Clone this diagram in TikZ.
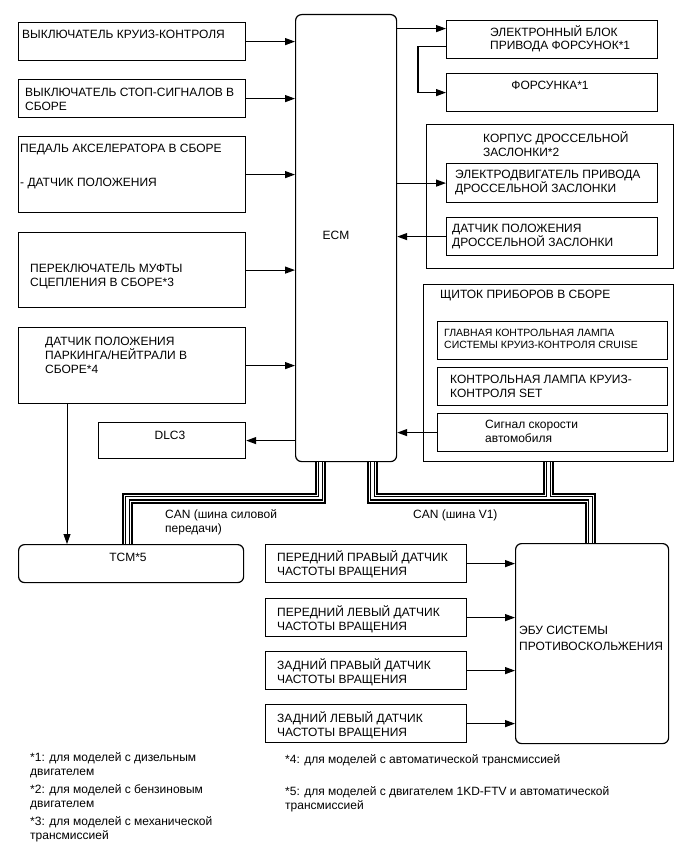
\documentclass[tikz,border=0pt]{standalone}
\usepackage{fontspec}
\setmainfont{Liberation Sans}
\usetikzlibrary{arrows.meta}

\begin{document}
\begin{tikzpicture}[x=1pt,y=-1pt,
  box/.style={draw,line width=1.2pt,anchor=north west,inner sep=0pt},
  rbox/.style={box,rounded corners=6pt},
  txt/.style={anchor=west,align=left,inner sep=0pt,font=\fontsize{12}{14}\selectfont},
  small/.style={txt,font=\fontsize{10.5}{12}\selectfont},
  arr/.style={line width=1.2pt,-{Triangle[length=10pt,width=7pt]}}]
\useasboundingbox (0,0) rectangle (690,853);

% ECM
\node[rbox,minimum width=101,minimum height=447] (ecm) at (295,14) {};
\node[txt,anchor=center] (ecmt) at (336,235) {ECM};

% inputs, left
\node[box,minimum width=227,minimum height=38] (cruise) at (18,22) {};
\node[txt] (cruiset) at (22,34) {ВЫКЛЮЧАТЕЛЬ КРУИЗ-КОНТРОЛЯ};
\node[box,minimum width=227,minimum height=38] (stop) at (18,79) {};
\node[txt] (stopt) at (25,99) {ВЫКЛЮЧАТЕЛЬ СТОП-СИГНАЛОВ В\\СБОРЕ};
\node[box,minimum width=227,minimum height=76] (pedal) at (18,136) {};
\node[txt] (pedalt) at (20,167) {ПЕДАЛЬ АКСЕЛЕРАТОРА В СБОРЕ\\[20pt]- ДАТЧИК ПОЛОЖЕНИЯ};
\node[box,minimum width=227,minimum height=75] (clutch) at (18,232) {};
\node[txt] (clutcht) at (30,276.5) {ПЕРЕКЛЮЧАТЕЛЬ МУФТЫ\\СЦЕПЛЕНИЯ В СБОРЕ*3};
\node[box,minimum width=227,minimum height=76] (pnp) at (18,327) {};
\node[txt] (pnpt) at (45,355) {ДАТЧИК ПОЛОЖЕНИЯ\\ПАРКИНГА/НЕЙТРАЛИ В\\СБОРЕ*4};
\node[box,minimum width=147,minimum height=36] (dlc) at (98,422) {};
\node[txt,anchor=center] (dlct) at (170,435) {DLC3};
\node[rbox,minimum width=225,minimum height=38] (tcm) at (18,544) {};
\node[txt,anchor=center] (tcmt) at (128,557) {TCM*5};

\foreach \n in {cruise,stop,pedal,clutch,pnp}
  \draw[arr] (\n.east) -- (\n.east -| ecm.west);
\draw[arr] (dlc.east -| ecm.west) -- (dlc.east);
\draw[arr,line width=0.8pt] ([xshift=49pt]pnp.south west) -- ([xshift=49pt]pnp.south west |- tcm.north);

% injection
\node[box,minimum width=211,minimum height=38] (edu) at (446,20) {};
\node[txt,font=\fontsize{12}{12.5}\selectfont] (edut) at (490,39) {ЭЛЕКТРОННЫЙ БЛОК\\ПРИВОДА ФОРСУНОК*1};
\node[box,minimum width=211,minimum height=38] (inj) at (446,73) {};
\node[txt,anchor=center] (injt) at (550,85) {ФОРСУНКА*1};
\draw[arr] ([yshift=11pt]edu.west -| ecm.east) -- ([yshift=11pt]edu.west);
\draw[arr] ([yshift=-7pt]edu.west) -- ++(-28,0) |- (inj.west);

% throttle body
\node[box,minimum width=247,minimum height=144] (thr) at (426,124) {};
\node[txt] (thrt) at (483,144.5) {КОРПУС ДРОССЕЛЬНОЙ\\ЗАСЛОНКИ*2};
\node[box,minimum width=211,minimum height=39] (motor) at (446,163) {};
\node[txt] (motort) at (455,182.5) {ЭЛЕКТРОДВИГАТЕЛЬ ПРИВОДА\\ДРОССЕЛЬНОЙ ЗАСЛОНКИ};
\node[box,minimum width=211,minimum height=38] (tps) at (446,217) {};
\node[txt] (tpst) at (452,236.5) {ДАТЧИК ПОЛОЖЕНИЯ\\ДРОССЕЛЬНОЙ ЗАСЛОНКИ};
\draw[arr] (motor.west -| ecm.east) -- (motor.west);
\draw[arr] (tps.west) -- (tps.west -| ecm.east);

% combination meter
\node[box,minimum width=250,minimum height=177] (meter) at (423,284) {};
\node[txt] (metert) at (440,296) {ЩИТОК ПРИБОРОВ В СБОРЕ};
\node[box,minimum width=230,minimum height=38] (lamp) at (437,321) {};
\node[small] (lampt) at (444,339) {ГЛАВНАЯ КОНТРОЛЬНАЯ ЛАМПА\\СИСТЕМЫ КРУИЗ-КОНТРОЛЯ CRUISE};
\node[box,minimum width=230,minimum height=38] (setl) at (437,367) {};
\node[txt] (setlt) at (450,386) {КОНТРОЛЬНАЯ ЛАМПА КРУИЗ-\\КОНТРОЛЯ SET};
\node[box,minimum width=230,minimum height=38] (spd) at (437,413) {};
\node[txt] (spdt) at (485,431.5) {Сигнал скорости\\автомобиля};
\draw[arr] (spd.west) -- (spd.west -| ecm.east);

% skid control
\node[rbox,minimum width=153,minimum height=200] (abs) at (515,543) {};
\node[txt,font=\fontsize{12}{16}\selectfont] (abst) at (519,638.5) {ЭБУ СИСТЕМЫ\\ПРОТИВОСКОЛЬЖЕНИЯ};
\node[box,minimum width=201,minimum height=38] (fr) at (265,544) {};
\node[txt] (frt) at (277,564.5) {ПЕРЕДНИЙ ПРАВЫЙ ДАТЧИК\\ЧАСТОТЫ ВРАЩЕНИЯ};
\node[box,minimum width=201,minimum height=38] (fl) at (265,598) {};
\node[txt] (flt) at (277,619) {ПЕРЕДНИЙ ЛЕВЫЙ ДАТЧИК\\ЧАСТОТЫ ВРАЩЕНИЯ};
\node[box,minimum width=201,minimum height=38] (rr) at (265,651) {};
\node[txt] (rrt) at (277,672) {ЗАДНИЙ ПРАВЫЙ ДАТЧИК\\ЧАСТОТЫ ВРАЩЕНИЯ};
\node[box,minimum width=201,minimum height=38] (rl) at (265,704) {};
\node[txt] (rlt) at (277,725.5) {ЗАДНИЙ ЛЕВЫЙ ДАТЧИК\\ЧАСТОТЫ ВРАЩЕНИЯ};
\foreach \n in {fr,fl,rr,rl}
  \draw[arr] (\n.east) -- (\n.east -| abs.west);

% CAN buses
\foreach \w/\c in {11/black,7/white,4.6/black,2.4/white}{
  \draw[line width=\w pt,\c] ([xshift=-25.5pt]ecm.south) -- ++(0,36) -| ([xshift=-3.5pt]tcm.north);
  \draw[line width=\w pt,\c] ([xshift=26.5pt]ecm.south) -- ++(0,36) -| ([xshift=-1.5pt]abs.north);
  \draw[line width=\w pt,\c] (meter.south) -- ++(0,36);
}
\node[txt] (can1) at (165,522.5) {CAN (шина силовой\\передачи)};
\node[txt] (can2) at (413,515) {CAN (шина V1)};

% notes
\node[txt] (n1) at (30,765) {*1: для моделей с дизельным\\двигателем};
\node[txt] (n2) at (30,797) {*2: для моделей с бензиновым\\двигателем};
\node[txt] (n3) at (30,829) {*3: для моделей с механической\\трансмиссией};
\node[txt] (n4) at (285,760) {*4: для моделей с автоматической трансмиссией};
\node[txt] (n5) at (285,799) {*5: для моделей с двигателем 1KD-FTV и автоматической\\трансмиссией};
\end{tikzpicture}
\end{document}
